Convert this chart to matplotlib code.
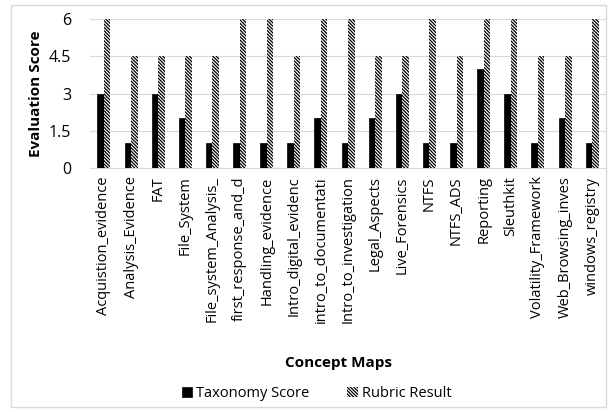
import numpy as np
import matplotlib.pyplot as plt
from matplotlib.patches import Rectangle

plt.rcParams['font.family'] = ['Open Sans', 'DejaVu Sans']
plt.rcParams['hatch.linewidth'] = 0.9

categories = ["Acquistion_evidence", "Analysis_Evidence", "FAT", "File_System",
              "File_system_Analysis_", "first_response_and_d", "Handling_evidence",
              "Intro_digital_evidenc", "intro_to_documentati", "Intro_to_investigation",
              "Legal_Aspects", "Live_Forensics", "NTFS", "NTFS_ADS", "Reporting",
              "Sleuthkit", "Volatility_Framework", "Web_Browsing_inves", "windows_registry"]
taxonomy = [3, 1, 3, 2, 1, 1, 1, 1, 2, 1, 2, 3, 1, 1, 4, 3, 1, 2, 1]
rubric = [6, 4.5, 4.5, 4.5, 4.5, 6, 6, 4.5, 6, 6, 4.5, 4.5, 6, 4.5, 6, 6, 4.5, 4.5, 6]
yticks = [0, 1.5, 3, 4.5, 6]

fig = plt.figure(figsize=(6.15, 4.12), dpi=100)
ax = fig.add_axes([0.147, 0.592, 0.838, 0.362])

x = np.arange(len(categories))
w = 0.24
ax.bar(x - w / 2, taxonomy, w, color='black', edgecolor='black', linewidth=0.5,
       label='Taxonomy Score', zorder=3)
ax.bar(x + w / 2, rubric, w, color='white', edgecolor='black', linewidth=0.0,
       hatch='\\\\\\\\\\\\\\\\\\\\', label='Rubric Result', zorder=3)

ax.set_xlim(-0.5, len(categories) - 0.5)
ax.set_ylim(0, 6)
ax.set_yticks(yticks)
ax.set_yticklabels(['0', '1.5', '3', '4.5', '6'], fontsize=11.5)
ax.set_xticks(x)
ax.set_xticklabels(categories, rotation=90, fontsize=10.5)
ax.tick_params(axis='y', length=0, pad=14)
ax.tick_params(axis='x', length=0, pad=6)
ax.grid(axis='y', color='#d9d9d9', linewidth=0.8, zorder=0)
for s in ['top', 'right', 'left']:
    ax.spines[s].set_visible(False)
ax.spines['bottom'].set_color('#d9d9d9')

ax.set_ylabel('Evaluation Score', fontsize=11, fontweight='bold', labelpad=4)
fig.text(0.55, 0.118, 'Concept Maps', ha='center', va='center', fontsize=11, fontweight='bold')

fig.legend(loc='center', bbox_to_anchor=(0.515, 0.045), ncol=2, frameon=False,
           fontsize=10.5, handlelength=0.7, handleheight=0.7, handletextpad=0.3,
           columnspacing=2.6)

fig.patches.append(Rectangle((0.018, 0.012), 0.968, 0.975, transform=fig.transFigure,
                             fill=False, edgecolor='#d9d9d9', linewidth=1))

fig.savefig('out.png', dpi=100)
